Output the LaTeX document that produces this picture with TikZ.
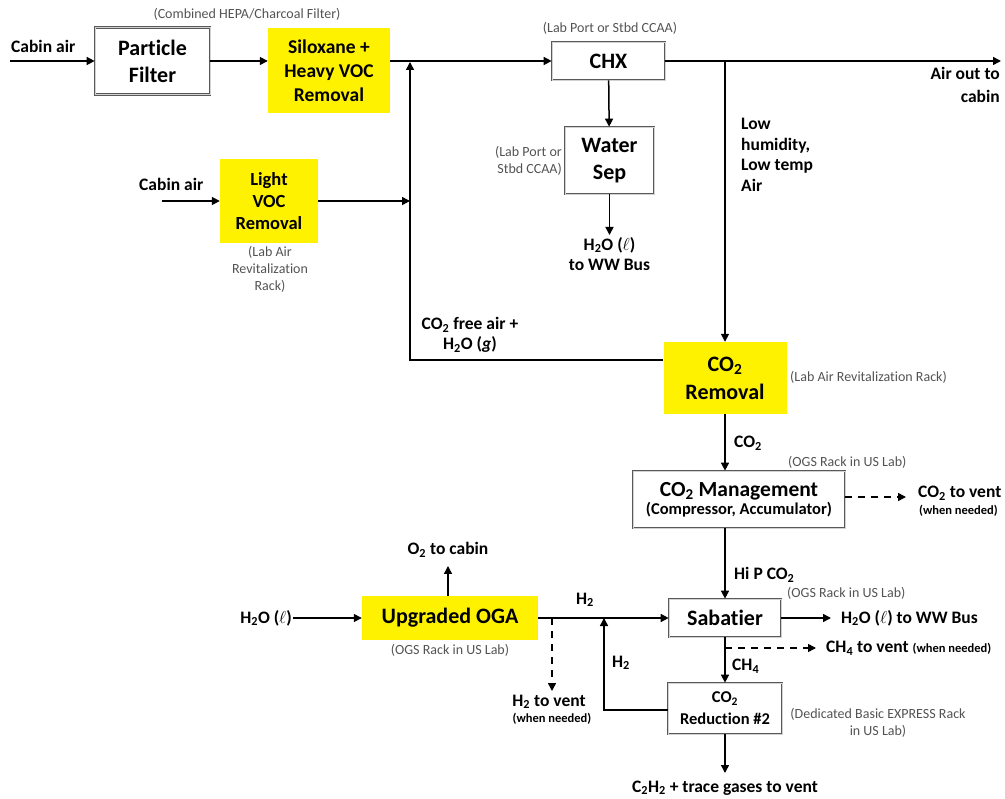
\documentclass[tikz,border=0pt]{standalone}
\usepackage{fontspec}
\setmainfont{Carlito}[Ligatures=NoCommon]
\usetikzlibrary{arrows.meta,positioning}
\newcommand{\sbs}[1]{\textsubscript{#1}}

\begin{document}
\begin{tikzpicture}[
  x=1pt,y=-1pt,
  box/.style={draw=gray!70!black,double=gray!35,double distance=0.8pt,line width=0.7pt,align=center,inner sep=0pt,fill=white},
  ybox/.style={fill=yellow,align=center,inner sep=0pt},
  tbig/.style={font=\bfseries\fontsize{22}{27}\selectfont},
  tmid/.style={font=\bfseries\fontsize{19.5}{24}\selectfont},
  tlab/.style={font=\bfseries\fontsize{17.5}{20.5}\selectfont,align=center,inner sep=1pt},
  tnote/.style={font=\fontsize{14}{17}\selectfont,text=gray!65!black,align=center,inner sep=1pt},
  twhen/.style={font=\bfseries\fontsize{12.5}{14}\selectfont,inner sep=1pt},
  arr/.style={-{Triangle[length=8pt,width=8pt]},line width=1.5pt},
  darr/.style={arr,dash pattern=on 7pt off 6pt}
]
\useasboundingbox (0,0) rectangle (1005,799);

\node[box,tbig,minimum width=115,minimum height=67] (pf) at (152.5,61) {Particle\\Filter};
\node[tnote] (pfnote) at (247,14) {(Combined HEPA/Charcoal Filter)};
\node[ybox,tmid,minimum width=122,minimum height=85] (silox) at (329,70.5) {Siloxane +\\Heavy VOC\\Removal};
\node[tlab,anchor=west] (cabin1) at (10,46) {Cabin air};
\coordinate (cabinin1) at (10,61);
\node[box,tbig,minimum width=113,minimum height=38] (chx) at (608.5,61) {CHX};
\node[tnote] (chxnote) at (610,28) {(Lab Port or Stbd CCAA)};
\coordinate (jn) at (410,62);
\coordinate (jchx) at (725,61);
\coordinate (airout) at (1001,61);
\node[tlab,align=right,anchor=north east,font=\bfseries\fontsize{17.5}{23}\selectfont] (airlbl) at (1001,66) {Air out to\\cabin};
\node[box,tbig,minimum width=89,minimum height=67] (wsep) at (609.5,160.5) {Water\\Sep};
\node[tnote,align=right,anchor=east] (wsepnote) at (563,161) {(Lab Port or\\Stbd CCAA)};
\coordinate (wsepout) at (609.5,235);
\node[tlab,anchor=north] (wwbus1) at (609.5,236) {H\sbs{2}O ($\ell$)\\to WW Bus};
\node[tlab,align=left,anchor=north west] (lowlbl) at (740,117) {Low\\humidity,\\Low temp\\Air};

\node[ybox,font=\bfseries\fontsize{18.5}{22}\selectfont,minimum width=98,minimum height=84] (lvoc) at (269,201) {Light\\VOC\\Removal};
\node[tlab,anchor=west] (cabin2) at (138,184) {Cabin air};
\coordinate (cabinin2) at (162,201);
\coordinate (jlvoc) at (410,201);
\node[tnote,anchor=north] (lvocnote) at (270,245) {(Lab Air\\Revitalization\\Rack)};

\node[ybox,tbig,font=\bfseries\fontsize{22}{28}\selectfont,minimum width=123,minimum height=72] (co2rem) at (725,378) {CO\sbs{2}\\Removal};
\node[tnote,anchor=west] (co2remnote) at (789,377) {(Lab Air Revitalization Rack)};
\coordinate (jret) at (410,360);
\node[tlab] (freelbl) at (470,335) {CO\sbs{2} free air +\\H\sbs{2}O (\textit{g})};
\node[tlab,anchor=west] (co2lbl) at (733,443) {CO\sbs{2}};

\node[box,font=\bfseries,minimum width=212,minimum height=57] (co2man) at (739,499.5) {{\fontsize{21.5}{24}\selectfont CO\sbs{2} Management}\\[1pt]{\fontsize{16.5}{19}\selectfont (Compressor, Accumulator)}};
\node[tnote,anchor=west] (co2mannote) at (787,462) {(OGS Rack in US Lab)};
\coordinate (co2vent) at (906,497);
\node[tlab,anchor=west] (co2ventlbl) at (917,493) {CO\sbs{2} to vent};
\node[twhen,anchor=west] (co2when) at (918,511) {(when needed)};

\node[box,tbig,minimum width=112,minimum height=38] (sab) at (725,618) {Sabatier};
\node[tlab,anchor=west] (hiplbl) at (733,575) {Hi P CO\sbs{2}};
\node[tnote,anchor=west] (sabnote) at (786,593) {(OGS Rack in US Lab)};
\coordinate (sabout) at (831,618);
\node[tlab,anchor=west] (wwbus2) at (840,618) {H\sbs{2}O ($\ell$) to WW Bus};
\coordinate (ch4j) at (725,648);
\coordinate (ch4vent) at (816,648);
\node[tlab,anchor=west] (ch4ventlbl) at (825,648) {CH\sbs{4} to vent {\fontsize{12.5}{14}\selectfont(when needed)}};
\node[tlab,anchor=west] (ch4lbl) at (731,666) {CH\sbs{4}};

\node[box,font=\bfseries\fontsize{16.5}{22}\selectfont,minimum width=114,minimum height=51] (red) at (725,708.5) {CO\sbs{2}\\Reduction \#2};
\node[tnote] (rednote) at (878,723) {(Dedicated Basic EXPRESS Rack\\in US Lab)};
\coordinate (redout) at (725,773);
\node[tlab] (c2h2lbl) at (725,788) {C\sbs{2}H\sbs{2} + trace gases to vent};
\coordinate (h2j) at (604,710);
\node[tlab,anchor=west] (h2retlbl) at (611,663) {H\sbs{2}};

\node[ybox,tbig,minimum width=176,minimum height=44] (oga) at (450,618) {Upgraded OGA};
\node[tnote] (oganote) at (450,650) {(OGS Rack in US Lab)};
\node[tlab,anchor=east] (h2oin) at (293,618) {H\sbs{2}O ($\ell$)};
\node[tlab] (o2lbl) at (448,550) {O\sbs{2} to cabin};
\coordinate (o2tip) at (448,566);
\node[tlab] (h2lbl) at (585,600) {H\sbs{2}};
\coordinate (h2vj) at (552,618);
\coordinate (h2vent) at (552,691);
\node[tlab] (h2ventlbl) at (549,702) {H\sbs{2} to vent};
\node[twhen] (h2when) at (552,719) {(when needed)};

\draw[arr] (cabinin1)--(pf);
\draw[arr] (pf.east)--(pf.east -| silox.west);
\draw[arr] (pf.east -| silox.east)--(chx);
\draw[arr] (chx)--(airout);
\draw[arr] (chx)--(wsep);
\draw[arr] (wsep)--(wsepout);
\draw[arr] (jchx)--(co2rem);
\draw[arr] (cabinin2)--(lvoc);
\draw[arr] (lvoc)--(jlvoc);
\draw[arr] (co2rem.west |- jret)--(jret)--(jn);
\draw[arr] (co2rem)--(co2rem |- co2man.north);
\draw[darr] (co2man.east |- co2vent)--(co2vent);
\draw[arr] (co2man.south -| sab)--(sab);
\draw[arr] (sab)--(sabout);
\draw[darr] (ch4j)--(ch4vent);
\draw[arr] (sab)--(red);
\draw[arr] (red)--(redout);
\draw[arr] (red.west |- h2j)--(h2j)--(h2j |- sab.west);
\draw[arr] (h2oin)--(oga);
\draw[arr] (oga.north -| o2tip)--(o2tip);
\draw[arr] (oga)--(sab);
\draw[darr] (h2vj)--(h2vent);
\end{tikzpicture}
\end{document}
